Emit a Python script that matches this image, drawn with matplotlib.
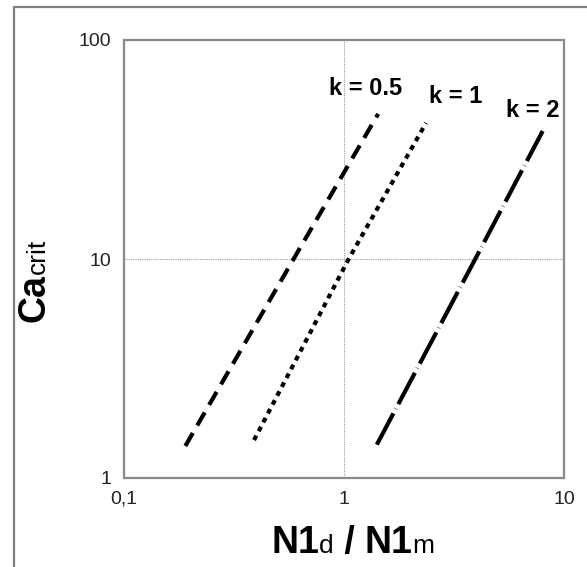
import matplotlib
matplotlib.use('Agg')
import matplotlib.pyplot as plt
from matplotlib.patches import Rectangle
from matplotlib.ticker import FixedLocator, FixedFormatter, NullLocator

plt.rcParams['font.family'] = ['Liberation Sans', 'DejaVu Sans']

# values (log-log)
k_labels = ['k = 0.5', 'k = 1', 'k = 2']
ratio_k05 = [0.19, 0.59, 1.43]
ca_k05 = [1.40, 10.0, 46.0]
ratio_k1 = [0.39, 1.05, 2.36]
ca_k1 = [1.49, 10.0, 41.8]
ratio_k2 = [1.41, 3.95, 8.0]
ca_k2 = [1.42, 10.0, 38.4]

x_ticks = [0.1, 1, 10]
x_ticklabels = ['0,1', '1', '10']
y_ticks = [1, 10, 100]
y_ticklabels = ['1', '10', '100']

W, H = 587, 567
fig = plt.figure(figsize=(W / 100, H / 100), dpi=100)
ax = fig.add_axes([124 / W, 1 - 478 / H, 440 / W, 438 / H])

ax.set_xscale('log')
ax.set_yscale('log')
ax.set_xlim(0.1, 10)
ax.set_ylim(1, 100)

ax.plot(ratio_k05, ca_k05, color='black', lw=3.0, linestyle=(0, (3.6, 2.1)))
ax.plot(ratio_k1, ca_k1, color='black', lw=3.0, linestyle=(0, (1.2, 1.2)))
ax.plot(ratio_k2, ca_k2, color='black', lw=3.0, linestyle=(0, (8.5, 1.2, 0.1, 1.2)))

# labels near the upper end of each curve (offsets in points)
label_offsets = [(-9, 18), (21, 19), (-7, 15)]
ends = [(ratio_k05[-1], ca_k05[-1]), (ratio_k1[-1], ca_k1[-1]), (ratio_k2[-1], ca_k2[-1])]
for lab, (ex, ey), off in zip(k_labels, ends, label_offsets):
    ax.annotate(lab, (ex, ey), xytext=off, textcoords='offset points',
                fontsize=17, fontweight='bold', ha='center', va='center')

ax.xaxis.set_major_locator(FixedLocator(x_ticks))
ax.xaxis.set_major_formatter(FixedFormatter(x_ticklabels))
ax.yaxis.set_major_locator(FixedLocator(y_ticks))
ax.yaxis.set_major_formatter(FixedFormatter(y_ticklabels))
ax.xaxis.set_minor_locator(NullLocator())
ax.yaxis.set_minor_locator(NullLocator())
ax.tick_params(length=0, labelsize=14, labelcolor='#222222', pad=9)

ax.grid(True, which='major', color='#9a9a9a', lw=0.8, linestyle=(0, (1, 1)))
for s in ax.spines.values():
    s.set_color('#8a8a8a')
    s.set_linewidth(1.6)

# outer frame of the figure
fig.patches.append(Rectangle((14 / W, -0.1), 1.2, 1.1 - 7 / H, transform=fig.transFigure,
                             fill=False, edgecolor='#808080', lw=1.6, zorder=0))

# axis titles built from pieces so sub-parts share the baseline
fig.canvas.draw()
r = fig.canvas.get_renderer()


def place_row(pieces, x, y, rotation=0):
    # pieces: list of (text, size, weight); x, y in pixels
    for txt, size, weight in pieces:
        t = fig.text(x / W, 1 - y / H, txt, fontsize=size, fontweight=weight,
                     rotation=rotation, rotation_mode='anchor', ha='left', va='baseline')
        bb = t.get_window_extent(r)
        if rotation == 0:
            x += bb.width
        else:
            y -= bb.height


x_pieces = [('N1', 27, 'bold'), ('d', 19, 'normal'), (' / ', 27, 'bold'),
            ('N1', 27, 'bold'), ('m', 19, 'normal')]
place_row(x_pieces, 271, 553)
y_pieces = [('Ca', 27, 'bold'), ('crit', 19, 'normal')]
place_row(y_pieces, 45, 322, rotation=90)

fig.savefig('out.png', dpi=100)
